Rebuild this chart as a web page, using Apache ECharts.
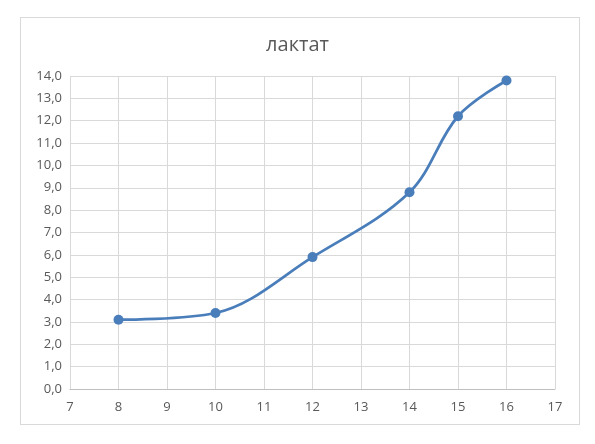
<!DOCTYPE html>
<html><head><meta charset="utf-8">
<script src="https://cdn.jsdelivr.net/npm/echarts@6/dist/echarts.min.js"></script>
<style>html,body{margin:0;padding:0;background:#fff}#c{width:595px;height:444px;position:relative}
#frame{position:absolute;left:20px;top:17px;width:560px;height:408px;border:1px solid #d9d9d9;box-sizing:border-box;pointer-events:none}</style>
</head><body><div id="c"></div><div id="frame"></div>
<script>
const titleText = 'лактат';
const xValues = [8, 10, 12, 14, 15, 16];
const yValues = [3.1, 3.4, 5.9, 8.8, 12.2, 13.8];
const xMin = 7, xMax = 17, yMin = 0, yMax = 14;

const chart = echarts.init(document.getElementById('c'), null, {renderer: 'canvas'});
chart.setOption({
  animation: false,
  backgroundColor: 'transparent',
  title: {
    text: titleText, left: 'center', top: 30,
    textStyle: {fontFamily: 'Open Sans', fontSize: 20, fontWeight: 'normal', color: '#595959'}
  },
  grid: {left: 70, right: 40, top: 76, bottom: 55, containLabel: false},
  xAxis: {
    type: 'value', min: xMin, max: xMax, interval: 1,
    axisLine: {show: true, lineStyle: {color: '#bfbfbf', width: 1}},
    axisTick: {show: false},
    axisLabel: {color: '#595959', fontFamily: 'Open Sans', fontSize: 13, margin: 12},
    splitLine: {show: true, lineStyle: {color: '#d9d9d9', width: 1}}
  },
  yAxis: {
    type: 'value', min: yMin, max: yMax, interval: 1,
    axisLine: {show: false},
    axisTick: {show: false},
    axisLabel: {color: '#595959', fontFamily: 'Open Sans', fontSize: 13, margin: 8,
      formatter: v => v.toFixed(1).replace('.', ',')},
    splitLine: {show: true, lineStyle: {color: '#d9d9d9', width: 1}}
  },
  series: [{
    type: 'line',
    data: xValues.map((x, i) => [x, yValues[i]]),
    smooth: 0.35,
    symbol: 'circle', symbolSize: 10,
    lineStyle: {color: '#4a7ebb', width: 2.75},
    itemStyle: {color: '#4a7ebb'}
  }]
});
</script></body></html>
